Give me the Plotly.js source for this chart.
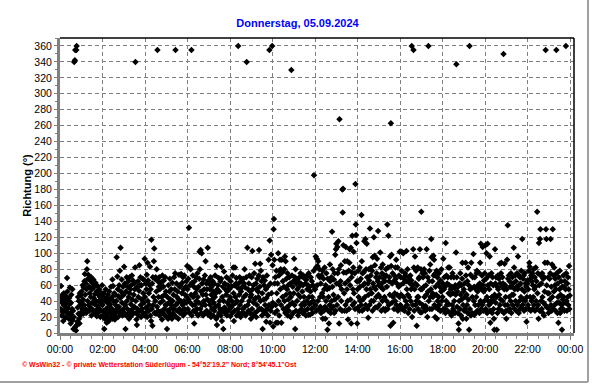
<!DOCTYPE html>
<html>
<head>
<meta charset="utf-8">
<script src="https://cdn.plot.ly/plotly-3.0.1.min.js"></script>
<style>html,body{margin:0;padding:0;background:#fff;}#chart{width:592px;height:384px;}</style>
</head>
<body>
<div id="chart"></div>
<script>
// Wind direction (degrees), one value per minute, one array per hour
const h00=[44,40,30,59,45,22,38,48,26,15,35,50,28,42,20,33,19,46,27,38,69,52,31,24,40,18,44,36,57,25,12,38,48,22,30,55,16,28,5,20,340,5,342,355,8,3,355,360,10,14,32,45,24,40,18,12,50,22,35,47];
const h01=[38,52,27,30,60,42,24,57,35,65,74,48,30,62,25,55,80,90,40,68,73,35,58,28,50,66,32,45,70,22,55,38,62,29,67,44,25,58,36,49,63,25,40,52,21,30,59,34,48,26,40,55,30,45,20,38,28,50,42,60];
const h02=[35,22,45,28,50,5,18,40,25,55,30,44,13,20,38,48,25,33,15,52,42,27,36,20,58,31,24,45,67,18,59,40,28,50,22,17,48,35,26,40,95,30,71,55,20,46,33,60,25,78,44,107,52,28,67,38,22,47,58,30];
const h03=[48,83,25,62,35,5,52,22,70,40,30,58,24,65,45,18,50,70,28,55,36,60,22,72,42,30,66,25,48,62,33,55,82,340,40,25,17,10,58,30,65,45,22,53,85,28,60,70,35,20,60,42,30,68,25,50,67,38,22,93];
const h04=[45,25,62,32,55,73,20,88,40,66,28,50,35,60,83,22,55,15,117,30,62,9,70,35,45,90,106,25,68,40,70,24,52,80,33,355,65,28,45,58,70,22,55,38,62,27,64,45,17,72,40,25,58,66,30,48,22,70,35,52];
const h05=[35,20,5,45,28,18,60,38,25,52,68,30,42,22,55,35,18,63,40,25,48,30,70,22,55,75,355,35,20,62,45,28,52,38,18,42,73,30,58,25,60,40,74,28,50,63,35,70,22,55,40,72,30,48,25,58,38,65,45,84];
const h06=[55,30,68,42,132,82,25,60,38,80,48,355,22,63,35,72,45,28,58,12,65,35,50,26,70,40,55,30,75,45,22,58,38,68,102,80,30,104,52,25,100,62,35,48,22,67,40,55,25,72,35,90,48,62,28,55,42,107,23,66];
const h07=[40,62,25,55,35,70,20,48,58,30,42,65,22,52,38,62,28,45,72,33,50,18,84,10,55,21,60,35,69,25,52,40,30,65,22,68,83,15,45,28,58,5,40,77,32,62,25,55,30,48,70,22,52,38,60,28,68,35,55,42];
const h08=[45,21,65,32,58,40,25,72,35,82,50,15,60,28,82,45,38,62,69,22,40,57,30,360,62,25,48,70,35,55,20,52,65,40,25,58,30,68,25,45,62,80,33,57,22,48,70,340,25,107,35,55,28,62,40,72,25,52,45,18];
const h09=[48,70,30,103,55,22,60,38,75,42,25,87,44,62,20,55,35,68,28,52,45,72,104,30,58,87,40,78,30,65,22,50,5,70,28,42,60,25,66,35,25,55,14,44,72,30,58,22,48,92,35,355,116,13,62,28,98,50,33,360];
const h10=[85,38,8,130,143,92,62,25,70,35,13,78,50,28,62,13,100,40,72,22,78,92,55,80,35,13,92,76,45,65,78,30,58,80,40,96,25,90,48,68,32,55,75,22,60,42,28,70,35,50,62,20,45,330,23,72,38,58,25,65];
const h11=[50,93,35,70,5,80,28,62,68,40,55,65,22,48,26,58,70,28,45,75,62,35,30,71,52,25,60,72,38,45,35,68,28,62,22,71,67,40,55,30,60,23,75,45,36,58,23,52,70,38,30,65,45,25,60,40,78,198,33,55];
const h12=[55,35,96,82,28,93,60,84,40,90,72,30,80,70,45,33,62,25,72,30,50,78,18,45,68,28,55,82,33,18,60,40,75,30,55,4,68,28,45,12,56,35,86,65,25,30,70,40,127,58,80,33,48,67,25,75,42,98,28,105];
const h13=[112,62,35,108,75,45,115,80,12,268,60,30,65,85,40,55,28,180,151,181,110,76,50,28,90,62,35,108,76,28,55,90,40,17,66,78,30,88,105,60,42,107,12,70,76,122,35,55,82,102,50,38,75,30,187,136,123,113,65,12];
const h14=[55,32,78,45,65,28,82,58,40,68,35,148,90,28,75,42,60,76,30,115,62,45,118,35,80,55,112,70,30,62,19,48,80,66,35,131,55,72,82,40,50,78,28,95,62,40,120,58,97,85,32,55,70,45,75,93,32,65,128,48];
const h15=[60,35,70,45,101,58,82,28,62,75,40,86,55,30,68,72,45,65,28,30,80,72,40,58,136,30,82,122,35,65,70,48,96,9,263,84,98,38,62,75,45,13,65,30,72,50,40,82,68,92,35,62,48,82,28,30,58,72,45,102];
const h16=[60,35,70,48,78,102,30,30,62,100,45,68,28,32,75,72,40,65,103,55,35,80,48,25,65,70,45,30,62,72,40,55,66,360,20,60,35,105,355,82,28,55,96,62,35,78,40,9,60,45,82,30,45,68,70,38,105,26,55,80];
const h17=[152,26,55,75,35,70,32,58,80,45,75,28,34,60,48,105,30,20,70,52,360,40,65,78,30,86,45,55,118,95,30,65,50,45,97,72,92,35,74,20,58,32,48,78,18,70,40,30,62,45,75,35,58,28,66,28,52,80,40,55];
const h18=[45,62,93,30,55,70,30,58,25,113,40,72,35,62,28,70,82,50,36,60,82,25,48,55,70,22,58,35,75,50,30,28,70,40,56,25,60,48,101,337,70,33,52,25,58,12,4,40,62,30,75,48,22,60,42,68,88,18,35,52];
const h19=[55,28,62,45,30,88,72,18,48,35,65,25,82,42,60,4,360,30,55,73,22,88,56,25,45,70,24,99,40,58,23,70,35,25,55,45,75,78,28,52,60,35,76,58,25,62,88,40,112,30,55,72,35,108,60,28,52,66,40,75];
const h20=[55,110,30,68,100,45,25,112,60,40,72,35,55,96,28,13,62,38,75,45,25,70,42,60,30,18,4,48,105,62,38,70,45,4,58,25,72,55,30,68,48,87,35,62,42,75,88,28,58,70,40,62,350,25,55,87,35,60,45,28];
const h21=[18,55,92,35,135,68,28,72,45,65,30,58,40,75,25,58,48,70,35,62,48,107,82,30,55,72,40,65,28,58,75,35,55,96,73,25,60,40,70,30,62,45,78,32,55,118,35,68,42,72,28,52,75,40,62,30,58,14,45,66];
const h22=[62,35,55,78,30,88,83,45,68,28,72,40,65,75,30,60,45,80,35,55,70,28,58,82,40,65,30,152,50,75,35,18,113,60,28,118,130,72,40,62,30,75,45,25,68,38,22,70,52,88,35,355,130,118,60,32,88,50,70,25];
const h23=[50,30,68,42,75,118,35,58,28,86,45,130,30,72,52,82,35,60,68,28,55,355,75,38,25,62,45,13,70,38,55,78,25,48,30,65,35,4,58,42,30,72,45,58,28,65,38,55,360,75,40,28,62,45,70,35,55,84,30,47];

const day = '2024-09-05';
const titleText = 'Donnerstag, 05.09.2024';
const yTitle = 'Richtung (°)';
const footer = '© WsWin32 - © private Wetterstation Süderlügum - 54°52\'19.2" Nord; 8°54\'45.1"Ost';

const hours=[h00,h01,h02,h03,h04,h05,h06,h07,h08,h09,h10,h11,h12,h13,h14,h15,h16,h17,h18,h19,h20,h21,h22,h23];
const pad=n=>String(n).padStart(2,'0');
const xs=[], ys=[];
hours.forEach((arr,h)=>arr.forEach((v,m)=>{xs.push(day+' '+pad(h)+':'+pad(m)); ys.push(v);}));

const FONT='"Liberation Sans", Arial, sans-serif';
const L=60,R=18,T=38,B=51,W=592,H=384;
const pw=W-L-R, ph=H-T-B;
const px=x=>(x-L)/pw, py=y=>1-(y-T)/ph;

const trace={x:xs,y:ys,type:'scatter',mode:'markers',
  marker:{symbol:'diamond',size:5,color:'#000',line:{width:0}},hoverinfo:'skip'};

const layout={
  width:W,height:H,margin:{l:L,r:R,t:T,b:B,pad:0},
  paper_bgcolor:'#fff',plot_bgcolor:'#fff',showlegend:false,
  font:{family:FONT,size:10.5,color:'#000'},
  title:{text:'<b>'+titleText+'</b>',font:{family:FONT,size:11,color:'#0000ff'},
    x:297.5/W,xanchor:'center',xref:'container',y:1-23/H,yref:'container',yanchor:'middle'},
  xaxis:{type:'date',range:[day+' 00:00','2024-09-06 00:11'],tick0:day+' 00:00',dtick:7200000,
    tickformat:'%H:%M',showgrid:true,gridcolor:'#808080',griddash:'4px,3px',gridwidth:1,
    showline:true,linecolor:'#808080',linewidth:3,ticks:'outside',ticklen:4,tickcolor:'#808080',tickwidth:1,
    minor:{dtick:1800000,ticks:'outside',ticklen:3,tickcolor:'#808080',showgrid:false},
    zeroline:false,fixedrange:true,tickfont:{family:FONT,size:10.5}},
  yaxis:{range:[0,370],tick0:0,dtick:20,showgrid:true,gridcolor:'#808080',griddash:'4px,3px',gridwidth:1,
    showline:true,linecolor:'#808080',linewidth:3,ticks:'outside',ticklen:3,tickcolor:'#808080',
    minor:{dtick:10,ticks:'outside',ticklen:2,tickcolor:'#808080',showgrid:false},
    zeroline:false,fixedrange:true,tickfont:{family:FONT,size:10.5},
    title:{text:'<b>'+yTitle+'</b>',font:{family:FONT,size:11},standoff:1}},
  shapes:[
    {type:'line',xref:'paper',yref:'paper',x0:0,x1:1,y0:1,y1:1,line:{color:'#000',width:1.5}},
    {type:'line',xref:'paper',yref:'paper',x0:1,x1:1,y0:0,y1:1,line:{color:'#000',width:1.5}},
    {type:'line',xref:'paper',yref:'paper',x0:px(588),x1:px(588),y0:py(382),y1:py(0),line:{color:'#a0a0a0',width:2}},
    {type:'line',xref:'paper',yref:'paper',x0:px(0),x1:px(588),y0:py(382),y1:py(382),line:{color:'#a0a0a0',width:2}}
  ],
  annotations:[{text:'<b>'+footer+'</b>',xref:'paper',yref:'paper',x:px(20),y:py(365),xanchor:'left',yanchor:'middle',
    showarrow:false,font:{family:FONT,size:7,color:'#ff0000'}}]
};
Plotly.newPlot('chart',[trace],layout,{displayModeBar:false,staticPlot:true});
</script>
</body>
</html>
